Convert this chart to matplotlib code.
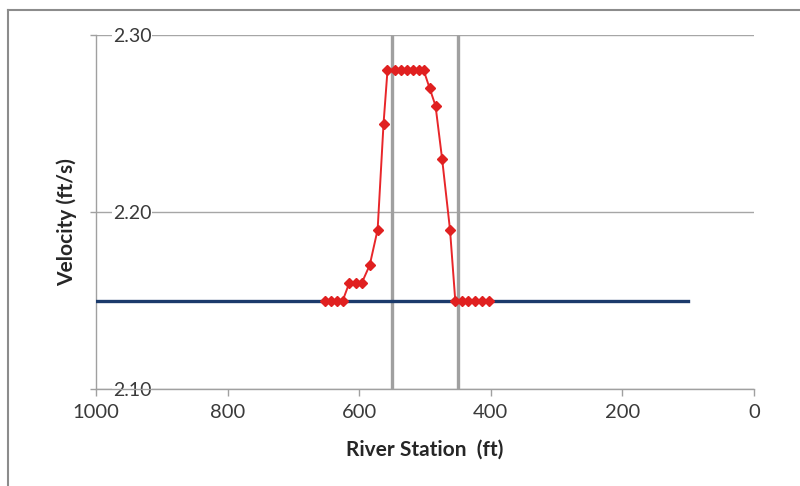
import matplotlib
matplotlib.use("Agg")
import matplotlib.pyplot as plt
from matplotlib.lines import Line2D

# ---- data ----
station = [652, 643, 634, 625, 615, 605, 596, 584, 572, 563, 557, 546, 536, 527,
           518, 509, 502, 493, 484, 474, 462, 454, 444, 434, 424, 414, 403]
velocity = [2.15, 2.15, 2.15, 2.15, 2.16, 2.16, 2.16, 2.17, 2.19, 2.25, 2.28, 2.28,
            2.28, 2.28, 2.28, 2.28, 2.28, 2.27, 2.26, 2.23, 2.19, 2.15, 2.15, 2.15,
            2.15, 2.15, 2.15]
base_station = [1000, 100]
base_velocity = [2.15, 2.15]
bound_stations = [550, 450]
x_ticks = [1000, 800, 600, 400, 200, 0]
y_ticks = [2.10, 2.20, 2.30]
y_tick_labels = ["2.10", "2.20", "2.30"]

plt.rcParams['font.family'] = ['Lato', 'DejaVu Sans']

fig = plt.figure(figsize=(8, 4.86), dpi=100)
ax = fig.add_axes([96/800, 1 - 389/486, (754-96)/800, (389-35)/486])

ax.set_xlim(1000, 0)
ax.set_ylim(2.10, 2.30)

# gridlines
ax.set_yticks(y_ticks)
ax.set_yticklabels(y_tick_labels)
ax.yaxis.grid(True, color='#A6A6A6', linewidth=1.0)
ax.set_axisbelow(True)

ax.set_xticks(x_ticks)
ax.set_xticklabels([str(v) for v in x_ticks])

for s in ['top', 'right']:
    ax.spines[s].set_visible(False)
for s in ['left', 'bottom']:
    ax.spines[s].set_color('#A0A0A0')
    ax.spines[s].set_linewidth(1.0)

ax.tick_params(axis='x', colors='#A0A0A0', labelcolor='#3A3A3A', labelsize=14.5,
               length=5, width=1, pad=6)
ax.tick_params(axis='y', colors='#A0A0A0', labelcolor='#3A3A3A', labelsize=14,
               length=4, width=1, pad=-44)
for lab in ax.get_yticklabels():
    lab.set_bbox(dict(facecolor='white', edgecolor='none', pad=0.5))

# series
ax.plot(base_station, base_velocity, color='#1B3A6B', linewidth=2.4, zorder=3)
for xb in bound_stations:
    ax.plot([xb, xb], [2.10, 2.30], color='#A0A0A0', linewidth=2.4, zorder=2,
            solid_capstyle='butt')
ax.plot(station, velocity, color='#E8262A', linewidth=1.4, marker='D',
        markersize=5, markerfacecolor='#E02020', markeredgecolor='#E02020', zorder=4)

ax.set_xlabel("River Station  (ft)", fontsize=15, fontweight='bold', color='#262626')
ax.set_ylabel("Velocity (ft/s)", fontsize=15, fontweight='bold', color='#262626')
ax.xaxis.set_label_coords((425 - 96) / 658, -(450 - 389) / 354)
ax.yaxis.set_label_coords(-(96 - 67) / 658, (389 - 222) / 354)
ax.xaxis.label.set_va('center')
ax.yaxis.label.set_va('center')

# outer chart border
fig.add_artist(Line2D([8/800, 8/800], [0, 1 - 10.5/486], transform=fig.transFigure,
                      color='#8C8C8C', linewidth=1.5))
fig.add_artist(Line2D([8/800, 1], [1 - 10.5/486, 1 - 10.5/486], transform=fig.transFigure,
                      color='#8C8C8C', linewidth=1.5))

fig.savefig("out.png", dpi=100)
